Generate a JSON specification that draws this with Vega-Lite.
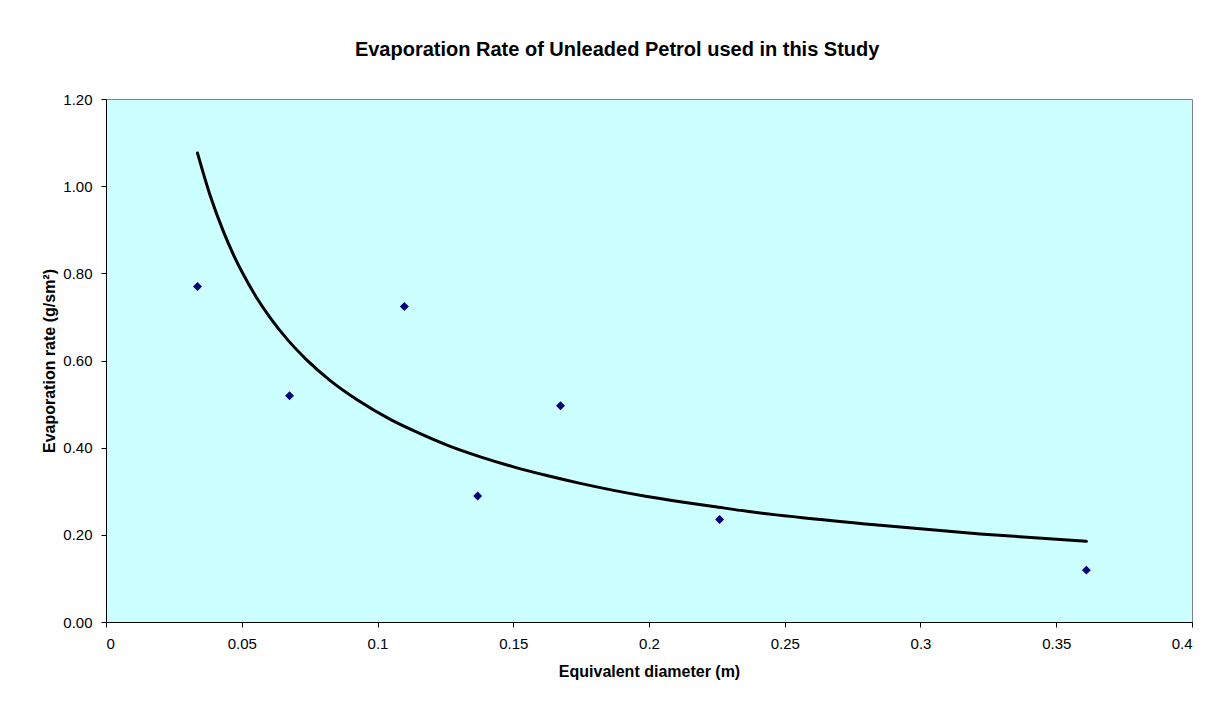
{
  "$schema": "https://vega.github.io/schema/vega-lite/v6.json",
  "width": 1086,
  "height": 523,
  "autosize": {"type": "none"},
  "padding": {"left": 106, "top": 99, "right": 35, "bottom": 79},
  "background": "white",
  "title": {
    "text": "Evaporation Rate of Unleaded Petrol used in this Study",
    "font": "Liberation Sans",
    "fontSize": 20,
    "fontWeight": "bold",
    "color": "black",
    "anchor": "middle",
    "frame": "bounds",
    "offset": 32
  },
  "datasets": {
    "obs": [
      {"d": 0.0337, "rate": 0.770},
      {"d": 0.0676, "rate": 0.519},
      {"d": 0.1099, "rate": 0.724},
      {"d": 0.1369, "rate": 0.289},
      {"d": 0.1674, "rate": 0.496},
      {"d": 0.2260, "rate": 0.235},
      {"d": 0.3611, "rate": 0.119}
    ],
    "trend": [
      {"d": 0.0337, "rate": 1.076},
      {"d": 0.0384, "rate": 0.978},
      {"d": 0.0433, "rate": 0.895},
      {"d": 0.0470, "rate": 0.842},
      {"d": 0.0507, "rate": 0.796},
      {"d": 0.0556, "rate": 0.743},
      {"d": 0.0605, "rate": 0.698},
      {"d": 0.0667, "rate": 0.649},
      {"d": 0.0740, "rate": 0.601},
      {"d": 0.0826, "rate": 0.554},
      {"d": 0.0925, "rate": 0.510},
      {"d": 0.1047, "rate": 0.465},
      {"d": 0.1133, "rate": 0.439},
      {"d": 0.1256, "rate": 0.406},
      {"d": 0.1379, "rate": 0.379},
      {"d": 0.1501, "rate": 0.356},
      {"d": 0.1624, "rate": 0.336},
      {"d": 0.1747, "rate": 0.318},
      {"d": 0.1870, "rate": 0.302},
      {"d": 0.1993, "rate": 0.288},
      {"d": 0.2115, "rate": 0.276},
      {"d": 0.2238, "rate": 0.265},
      {"d": 0.2361, "rate": 0.254},
      {"d": 0.2557, "rate": 0.240},
      {"d": 0.2852, "rate": 0.222},
      {"d": 0.3220, "rate": 0.202},
      {"d": 0.3611, "rate": 0.185}
    ]
  },
  "encoding": {
    "x": {
      "field": "d",
      "type": "quantitative",
      "scale": {"domain": [0, 0.4], "nice": false},
      "axis": {
        "values": [0, 0.05, 0.1, 0.15, 0.2, 0.25, 0.3, 0.35, 0.4],
        "format": "~g",
        "title": "Equivalent diameter (m)",
        "titlePadding": 12
      }
    },
    "y": {
      "field": "rate",
      "type": "quantitative",
      "scale": {"domain": [0, 1.2], "nice": false},
      "axis": {
        "values": [0, 0.2, 0.4, 0.6, 0.8, 1.0, 1.2],
        "format": ".2f",
        "title": "Evaporation rate (g/sm²)",
        "titlePadding": 5
      }
    }
  },
  "layer": [
    {
      "data": {"name": "trend"},
      "mark": {"type": "line", "color": "black", "strokeWidth": 3, "strokeCap": "round", "interpolate": "monotone"}
    },
    {
      "data": {"name": "obs"},
      "mark": {"type": "point", "shape": "diamond", "filled": true, "color": "#000080", "size": 80, "opacity": 1}
    }
  ],
  "config": {
    "view": {"fill": "#CCFFFF", "stroke": "#808080", "strokeWidth": 1},
    "axis": {
      "grid": false,
      "domainColor": "black",
      "domainWidth": 1,
      "tickColor": "black",
      "tickSize": 5,
      "labelFont": "Liberation Sans",
      "labelFontSize": 15,
      "labelColor": "black",
      "labelPadding": 9,
      "titleFont": "Liberation Sans",
      "titleFontSize": 16,
      "titleFontWeight": "bold",
      "titleColor": "black"
    }
  }
}
